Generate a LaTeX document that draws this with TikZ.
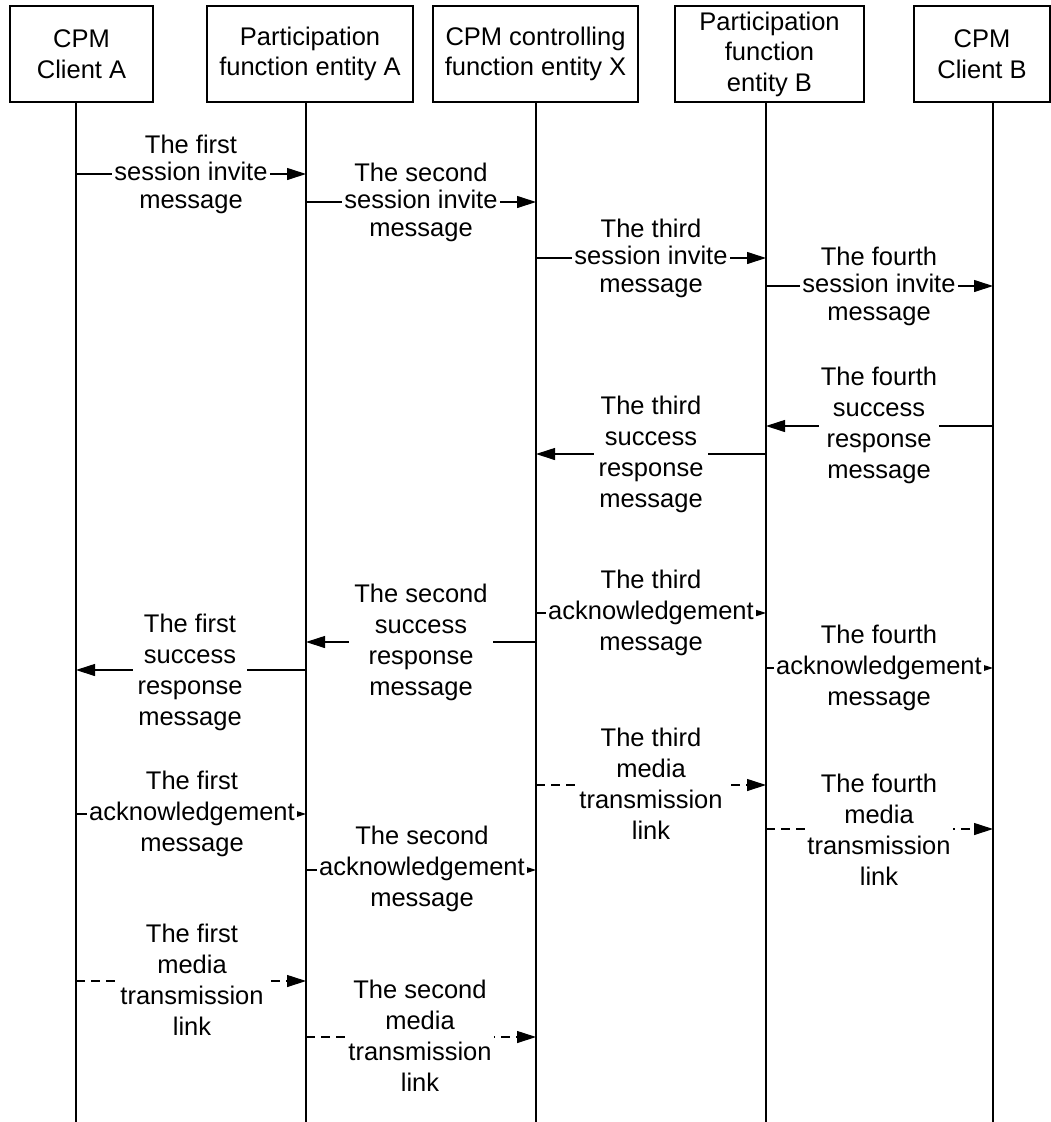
\documentclass[tikz,border=0pt]{standalone}
\usepackage{fontspec}
\setmainfont{Liberation Sans}
\usetikzlibrary{arrows.meta}
\begin{document}
\begin{tikzpicture}[x=1pt,y=-1pt,
  ent/.style={draw,line width=1.3pt,align=center,inner sep=0pt,minimum height=96pt,font=\fontsize{25.5}{30.5}\selectfont},
  lab/.style={fill=white,align=center,inner xsep=2pt,inner ysep=0pt,font=\fontsize{25.5}{31}\selectfont},
  labs/.style={lab,font=\fontsize{25.5}{27.5}\selectfont},
  msg/.style={line width=1.1pt,-{Triangle[length=19pt,width=12pt]}},
  media/.style={msg,dash pattern=on 9pt off 6pt},
  lifeA/.style={line width=1.9pt},
  lifeB/.style={line width=1.2pt}]
\useasboundingbox (0,0) rectangle (1051,1122);
% entities
\node[ent,minimum width=143pt] (A) at (81.5,54) {CPM\\Client A};
\node[ent,minimum width=206pt] (B) at (310,54) {Participation\\function entity A};
\node[ent,minimum width=205pt] (C) at (535.5,54) {CPM controlling\\function entity X};
\node[ent,minimum width=189pt] (D) at (769.5,54) {Participation\\function\\entity B};
\node[ent,minimum width=136pt] (E) at (982,54) {CPM\\Client B};
% lifelines
\coordinate (bot) at (0,1122);
\coordinate (la) at (76,102);
\coordinate (lb) at (306,102);
\coordinate (lc) at (536,102);
\coordinate (ld) at (766,102);
\coordinate (le) at (993,102);
\draw[lifeA] (A.south -| la) -- (la |- bot);
\draw[lifeA] (B.south -| lb) -- (lb |- bot);
\draw[lifeA] (C.south -| lc) -- (lc |- bot);
\draw[lifeB] (D.south -| ld) -- (ld |- bot);
\draw[lifeB] (E.south -| le) -- (le |- bot);
% message heights
\coordinate (y1) at (0,174);
\coordinate (y2) at (0,202);
\coordinate (y3) at (0,258);
\coordinate (y4) at (0,286);
\coordinate (y5) at (0,426);
\coordinate (y6) at (0,454);
\coordinate (y7) at (0,642);
\coordinate (y8) at (0,670);
\coordinate (y9) at (0,613);
\coordinate (y10) at (0,668);
\coordinate (y11) at (0,814);
\coordinate (y12) at (0,870);
\coordinate (y13) at (0,785);
\coordinate (y14) at (0,829);
\coordinate (y15) at (0,981);
\coordinate (y16) at (0,1037);
% session invites
\draw[msg] (la |- y1) -- (lb |- y1);
\node[labs] (t1) at (191,174) {The first\\session invite\\message};
\draw[msg] (lb |- y2) -- (lc |- y2);
\node[labs] (t2) at (421,202) {The second\\session invite\\message};
\draw[msg] (lc |- y3) -- (ld |- y3);
\node[labs] (t3) at (651,258) {The third\\session invite\\message};
\draw[msg] (ld |- y4) -- (le |- y4);
\node[labs] (t4) at (879,286) {The fourth\\session invite\\message};
% success responses
\draw[msg] (le |- y5) -- (ld |- y5);
\node[lab] (t5) at (879,425) {The fourth\\success\\response\\message};
\draw[msg] (ld |- y6) -- (lc |- y6);
\node[lab,inner xsep=5pt] (t6) at (651,454) {The third\\success\\response\\message};
\draw[msg] (lc |- y7) -- (lb |- y7);
\node[lab,inner xsep=5pt] (t7) at (421,642) {The second\\success\\response\\message};
\draw[msg] (lb |- y8) -- (la |- y8);
\node[lab,inner xsep=5pt] (t8) at (190,672) {The first\\success\\response\\message};
% acknowledgements
\draw[msg] (lc |- y9) -- (ld |- y9);
\node[lab] (t9) at (651,613) {The third\\acknowledgement\\message};
\draw[msg] (ld |- y10) -- (le |- y10);
\node[lab] (t10) at (879,668) {The fourth\\acknowledgement\\message};
\draw[msg] (la |- y11) -- (lb |- y11);
\node[lab] (t11) at (192,814) {The first\\acknowledgement\\message};
\draw[msg] (lb |- y12) -- (lc |- y12);
\node[lab] (t12) at (422,869) {The second\\acknowledgement\\message};
% media links
\draw[media] (lc |- y13) -- (ld |- y13);
\node[lab] (t13) at (651,784) {The third\\media\\transmission\\link};
\draw[media] (ld |- y14) -- (le |- y14);
\node[lab] (t14) at (879,830) {The fourth\\media\\transmission\\link};
\draw[media] (la |- y15) -- (lb |- y15);
\node[lab] (t15) at (192,980) {The first\\media\\transmission\\link};
\draw[media] (lb |- y16) -- (lc |- y16);
\node[lab] (t16) at (420,1036) {The second\\media\\transmission\\link};
\end{tikzpicture}
\end{document}
